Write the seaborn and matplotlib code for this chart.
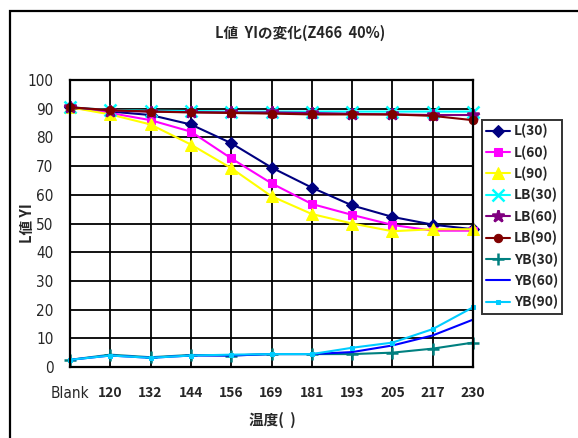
import matplotlib
matplotlib.use("Agg")
import matplotlib.pyplot as plt
from matplotlib.patches import Rectangle
from matplotlib import font_manager
import seaborn as sns
import numpy as np

sns.set_style("white")
plt.rcParams['font.family'] = ['Noto Sans CJK JP', 'DejaVu Sans']

categories = ["Blank", "120", "132", "144", "156", "169", "181", "193", "205", "217", "230"]

l_30 = [90.5, 89.0, 87.8, 84.5, 78.0, 69.5, 62.5, 56.3, 52.3, 49.6, 48.0]
l_60 = [90.5, 88.5, 86.0, 82.0, 72.7, 64.0, 56.8, 53.0, 49.5, 47.5, 47.5]
l_90 = [90.5, 88.0, 84.5, 77.5, 69.3, 59.5, 53.3, 50.0, 47.3, 48.0, 48.0]
lb_30 = [90.5, 89.5, 89.3, 89.2, 89.0, 89.0, 89.0, 89.0, 89.0, 89.0, 89.0]
lb_60 = [90.5, 89.3, 89.0, 88.8, 88.7, 88.7, 88.5, 88.2, 88.0, 87.8, 87.8]
lb_90 = [90.5, 89.5, 89.0, 88.7, 88.5, 88.3, 88.0, 88.0, 88.0, 87.5, 86.0]
yb_30 = [2.5, 4.3, 3.4, 4.2, 4.0, 4.5, 4.5, 4.5, 5.0, 6.4, 8.5]
yb_60 = [2.5, 4.0, 3.2, 4.0, 4.0, 4.5, 4.5, 5.2, 7.5, 11.0, 16.5]
yb_90 = [2.5, 4.0, 3.2, 4.0, 4.3, 4.5, 4.5, 6.7, 8.5, 13.2, 20.8]

series = [
    ("L(30)", l_30, "#000080", "D", 6),
    ("L(60)", l_60, "#FF00FF", "s", 6),
    ("L(90)", l_90, "#FFFF00", "^", 8),
    ("LB(30)", lb_30, "#00FFFF", "x", 8),
    ("LB(60)", lb_60, "#800080", "*", 9),
    ("LB(90)", lb_90, "#800000", "o", 6),
    ("YB(30)", yb_30, "#008080", "+", 9),
    ("YB(60)", yb_60, "#0000FF", None, 0),
    ("YB(90)", yb_90, "#00CCFF", "s", 3.5),
]

# condensed face for the numeric axis labels
narrow = font_manager.FontProperties(family="DejaVu Sans", stretch="condensed", size=11)

fig = plt.figure(figsize=(5.78, 4.38), dpi=100)
fig.patch.set_facecolor("white")
ax = fig.add_axes([70 / 578, 1 - 367 / 438, (473 - 70) / 578, (367 - 80) / 438])

xpos = np.arange(len(categories))
for name, vals, color, marker, ms in series:
    kw = dict(marker=marker, markersize=ms) if marker else {}
    if marker in ("x", "+", "*"):
        kw["markeredgewidth"] = 1.8
    sns.lineplot(x=xpos, y=vals, ax=ax, color=color, label=name,
                 linewidth=1.5, markeredgecolor=color, clip_on=False, **kw)

ax.set_xlim(0, len(categories) - 1)
ax.set_ylim(0, 100)
ax.set_xticks(xpos)
ax.set_yticks(np.arange(0, 101, 10))
ax.grid(True, color="black", linewidth=1.3)
ax.set_axisbelow(True)
for sp in ax.spines.values():
    sp.set_color("black")
    sp.set_linewidth(1.6)

ax.set_yticklabels([str(v) for v in range(0, 101, 10)], fontproperties=narrow)
ax.tick_params(axis="y", length=0, pad=12)
ax.tick_params(axis="x", length=0, pad=14)
ax.set_xticklabels(categories, fontsize=10, fontweight="bold")
ax.get_xticklabels()[0].set_fontproperties(narrow)

ax.set_xlabel("温度(  )", fontsize=10.5, fontweight="bold")
ax.xaxis.set_label_coords((272 - 70) / (473 - 70), -(412 - 367) / (367 - 80))
ax.set_ylabel("L値 YI", fontsize=10.5, fontweight="bold")
ax.yaxis.set_label_coords(-(70 - 35) / (473 - 70), (367 - 223) / (367 - 80))

fig.text(300 / 578, 1 - 33 / 438, "L値  YIの変化(Z466  40%)", ha="center", va="center",
         fontsize=10.5, fontweight="bold")

leg = ax.legend(loc="upper left", bbox_to_anchor=(482 / 578, 1 - 120 / 438),
                bbox_transform=fig.transFigure, frameon=True, fancybox=False,
                prop=dict(family=['Noto Sans CJK JP', 'DejaVu Sans'], weight="bold", size=10),
                handlelength=1.7, handletextpad=0.3, labelspacing=0.5,
                borderpad=0.3, borderaxespad=0)
leg.get_frame().set_edgecolor("black")
leg.get_frame().set_linewidth(1.4)

fig.patches.append(Rectangle((10 / 578, -0.05), 1.1, 1 - 11 / 438 + 0.05,
                             transform=fig.transFigure, fill=False,
                             edgecolor="black", linewidth=1.6))

fig.savefig("out.png", dpi=100, facecolor="white")
